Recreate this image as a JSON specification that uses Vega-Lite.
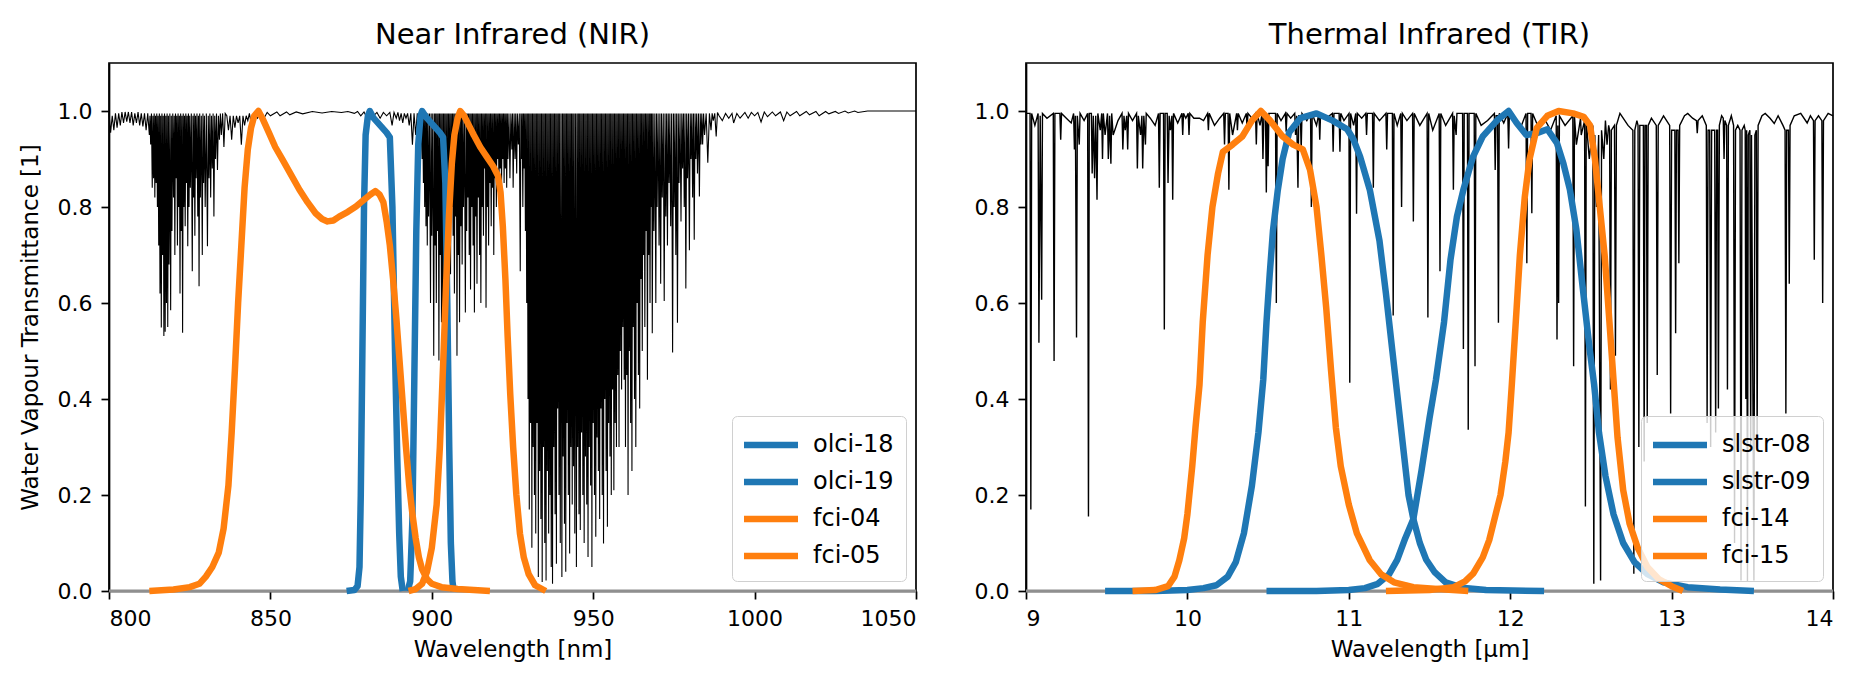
{
"$schema": "https://vega.github.io/schema/vega-lite/v6.json",
"background": "white",
"padding": {"left": 18, "top": 20, "right": 5, "bottom": 5},
"spacing": 110,
"bounds": "flush",
"resolve": {"scale": {"color": "independent", "x": "independent", "y": "independent"}, "legend": {"color": "independent"}},
"config": {
  "font": "DejaVu Sans",
  "view": {"stroke": "black", "strokeWidth": 1.7},
  "axis": {"grid": false, "domainColor": "black", "domainWidth": 1.7, "tickColor": "black", "tickWidth": 1.7, "tickSize": 8, "labelPadding": 9, "labelColor": "black", "labelFontSize": 22, "labelFont": "DejaVu Sans", "titleFont": "DejaVu Sans", "titleFontSize": 23, "titleFontWeight": "normal", "titleColor": "black"},
  "axisX": {"titlePadding": 9},
  "axisY": {"titlePadding": 15},
  "title": {"fontSize": 29, "fontWeight": "normal", "font": "DejaVu Sans", "color": "black", "offset": 13, "anchor": "middle"},
  "legend": {"orient": "bottom-right", "offset": 10, "symbolType": "M-2,0H2", "symbolSize": 729, "symbolStrokeWidth": 6.5, "labelFontSize": 24, "labelFont": "DejaVu Sans", "labelColor": "black", "fillColor": "rgba(255,255,255,0.8)", "strokeColor": "#d0d0d0", "cornerRadius": 5, "padding": 12, "rowPadding": 7, "symbolOffset": 10, "labelOffset": 25}
},
"datasets": {
"nir_t": [
{"w":800,"t":0.995},{"w":800.5,"t":0.955},{"w":801,"t":0.99},{"w":801.5,"t":0.96},{"w":802,"t":0.995},{"w":802.5,"t":0.965},{"w":803,"t":0.995},{"w":803.5,"t":0.97},{"w":804,"t":0.998},{"w":804.5,"t":0.975},{"w":805,"t":0.998},{"w":805.5,"t":0.978},{"w":806,"t":0.998},{"w":806.5,"t":0.975},{"w":807,"t":0.998},{"w":807.5,"t":0.97},{"w":808,"t":0.995},{"w":808.5,"t":0.975},{"w":809,"t":0.998},{"w":809.5,"t":0.97},{"w":810,"t":0.995},{"w":810.5,"t":0.968},{"w":811,"t":0.995},{"w":811.5,"t":0.96},{"w":812,"t":0.995},{"w":812.5,"t":0.95},
{"w":812.7,"t":0.99},{"w":812.9,"t":0.93},{"w":813.15,"t":0.995},{"w":813.4,"t":0.84},{"w":813.6,"t":0.99},{"w":813.8,"t":0.86},{"w":814.0,"t":0.995},{"w":814.2,"t":0.82},{"w":814.4,"t":0.99},{"w":814.6,"t":0.85},{"w":814.8,"t":0.995},{"w":815.0,"t":0.80},{"w":815.2,"t":0.99},{"w":815.4,"t":0.72},{"w":815.6,"t":0.995},{"w":815.8,"t":0.62},{"w":816.0,"t":0.99},{"w":816.2,"t":0.549},{"w":816.4,"t":0.995},{"w":816.6,"t":0.70},{"w":816.8,"t":0.99},{"w":817.0,"t":0.531},{"w":817.2,"t":0.995},{"w":817.4,"t":0.54},{"w":817.6,"t":0.99},{"w":817.8,"t":0.60},{"w":818.0,"t":0.995},{"w":818.2,"t":0.55},{"w":818.4,"t":0.99},{"w":818.6,"t":0.68},{"w":818.85,"t":0.995},{"w":819.1,"t":0.585},{"w":819.3,"t":0.99},{"w":819.5,"t":0.75},{"w":819.75,"t":0.995},{"w":820.0,"t":0.82},{"w":820.2,"t":0.99},{"w":820.4,"t":0.70},{"w":820.6,"t":0.995},{"w":820.8,"t":0.86},{"w":821.0,"t":0.99},{"w":821.2,"t":0.72},{"w":821.4,"t":0.995},{"w":821.6,"t":0.80},{"w":821.8,"t":0.99},{"w":822.0,"t":0.62},{"w":822.2,"t":0.995},{"w":822.4,"t":0.75},{"w":822.6,"t":0.99},{"w":822.8,"t":0.538},{"w":823.0,"t":0.995},{"w":823.2,"t":0.80},{"w":823.4,"t":0.99},{"w":823.6,"t":0.76},{"w":823.8,"t":0.995},{"w":824.0,"t":0.85},{"w":824.2,"t":0.99},{"w":824.4,"t":0.718},{"w":824.6,"t":0.995},{"w":824.8,"t":0.80},{"w":825.0,"t":0.99},{"w":825.2,"t":0.84},{"w":825.5,"t":0.995},{"w":825.8,"t":0.666},{"w":826.0,"t":0.99},{"w":826.2,"t":0.82},{"w":826.4,"t":0.995},{"w":826.6,"t":0.74},{"w":826.8,"t":0.99},{"w":827.0,"t":0.86},{"w":827.25,"t":0.995},{"w":827.5,"t":0.78},{"w":827.7,"t":0.99},{"w":827.9,"t":0.635},{"w":828.1,"t":0.995},{"w":828.3,"t":0.82},{"w":828.6,"t":0.99},{"w":828.9,"t":0.70},{"w":829.1,"t":0.995},{"w":829.3,"t":0.85},{"w":829.55,"t":0.99},{"w":829.8,"t":0.80},{"w":830.15,"t":0.995},{"w":830.5,"t":0.718},{"w":830.75,"t":0.99},{"w":831.0,"t":0.86},{"w":831.25,"t":0.995},{"w":831.5,"t":0.82},{"w":831.75,"t":0.99},{"w":832.0,"t":0.88},{"w":832.25,"t":0.995},{"w":832.5,"t":0.78},{"w":832.75,"t":0.99},{"w":833.0,"t":0.90},{"w":833.3,"t":0.995},{"w":833.6,"t":0.877},{"w":833.9,"t":0.99},{"w":834.2,"t":0.94},{"w":834.5,"t":0.995},{"w":834.8,"t":0.95},{"w":835.2,"t":0.995},{"w":835.6,"t":0.925},{"w":836.0,"t":0.995},
{"w":836.5,"t":0.99},{"w":837,"t":0.96},{"w":837.5,"t":0.99},{"w":838,"t":0.94},{"w":838.5,"t":0.99},{"w":839,"t":0.965},{"w":839.5,"t":0.99},{"w":840,"t":0.975},{"w":840.5,"t":0.99},{"w":841,"t":0.93},{"w":841.5,"t":0.99},{"w":842,"t":0.97},{"w":842.5,"t":0.99},{"w":843,"t":0.98},{"w":843.5,"t":0.995},{"w":844,"t":0.975},{"w":845,"t":0.995},{"w":846,"t":0.985},{"w":847,"t":0.997},{"w":848,"t":0.985},{"w":849,"t":0.997},{"w":850,"t":0.99},{"w":852,"t":0.998},{"w":853,"t":0.99},{"w":855,"t":0.998},{"w":856,"t":0.992},{"w":858,"t":0.998},{"w":860,"t":0.994},{"w":863,"t":0.999},{"w":866,"t":0.996},{"w":869,"t":0.999},{"w":872,"t":0.997},{"w":874,"t":0.999},{"w":876,"t":0.995},{"w":877,"t":0.999},{"w":878,"t":0.99},{"w":879,"t":0.998},{"w":880,"t":0.985},{"w":881,"t":0.998},{"w":882,"t":0.99},{"w":883,"t":0.997},{"w":884,"t":0.985},{"w":885,"t":0.997},{"w":886,"t":0.99},{"w":887,"t":0.997},{"w":887.7,"t":0.97},{"w":888.3,"t":0.997},{"w":889,"t":0.985},{"w":889.5,"t":0.997},{"w":890,"t":0.98},{"w":890.5,"t":0.995},{"w":891,"t":0.975},{"w":891.5,"t":0.995},{"w":892,"t":0.985},{"w":892.5,"t":0.995},{"w":893,"t":0.97},{"w":893.5,"t":0.995},{"w":894,"t":0.93},{"w":894.5,"t":0.995},{"w":895,"t":0.95},{"w":895.5,"t":0.995},{"w":896,"t":0.93},{"w":896.5,"t":0.995},
{"w":897.0,"t":0.90},{"w":897.2,"t":0.995},{"w":897.4,"t":0.85},{"w":897.6,"t":0.995},{"w":897.8,"t":0.80},{"w":898.0,"t":0.995},{"w":898.2,"t":0.76},{"w":898.4,"t":0.995},{"w":898.6,"t":0.72},{"w":898.8,"t":0.995},{"w":899.0,"t":0.78},{"w":899.3,"t":0.995},{"w":899.6,"t":0.60},{"w":899.8,"t":0.995},{"w":900.0,"t":0.74},{"w":900.3,"t":0.995},{"w":900.6,"t":0.49},{"w":900.8,"t":0.995},{"w":901.0,"t":0.72},{"w":901.2,"t":0.995},{"w":901.4,"t":0.60},{"w":901.6,"t":0.995},{"w":901.8,"t":0.75},{"w":902.0,"t":0.995},{"w":902.2,"t":0.48},{"w":902.4,"t":0.995},{"w":902.6,"t":0.70},{"w":902.8,"t":0.995},{"w":903.0,"t":0.56},{"w":903.2,"t":0.995},{"w":903.4,"t":0.46},{"w":903.6,"t":0.995},{"w":903.8,"t":0.65},{"w":904.0,"t":0.995},{"w":904.2,"t":0.456},{"w":904.4,"t":0.995},{"w":904.6,"t":0.72},{"w":904.8,"t":0.995},{"w":905.0,"t":0.60},{"w":905.2,"t":0.995},{"w":905.4,"t":0.76},{"w":905.6,"t":0.995},{"w":905.8,"t":0.66},{"w":906.0,"t":0.995},{"w":906.2,"t":0.80},{"w":906.4,"t":0.995},{"w":906.6,"t":0.74},{"w":906.8,"t":0.995},{"w":907.0,"t":0.62},{"w":907.2,"t":0.995},{"w":907.4,"t":0.78},{"w":907.6,"t":0.995},{"w":907.8,"t":0.49},{"w":908.0,"t":0.995},{"w":908.2,"t":0.70},{"w":908.4,"t":0.995},{"w":908.6,"t":0.56},{"w":908.8,"t":0.995},{"w":909.0,"t":0.76},{"w":909.2,"t":0.995},{"w":909.4,"t":0.68},{"w":909.6,"t":0.995},{"w":909.8,"t":0.80},{"w":910.1,"t":0.995},{"w":910.4,"t":0.58},{"w":910.6,"t":0.995},{"w":910.8,"t":0.75},{"w":911.0,"t":0.995},{"w":911.2,"t":0.82},{"w":911.4,"t":0.995},{"w":911.6,"t":0.70},{"w":911.8,"t":0.995},{"w":912.0,"t":0.628},{"w":912.2,"t":0.995},{"w":912.4,"t":0.80},{"w":912.6,"t":0.995},{"w":912.8,"t":0.72},{"w":913.0,"t":0.995},{"w":913.2,"t":0.58},{"w":913.4,"t":0.995},{"w":913.6,"t":0.78},{"w":913.8,"t":0.995},{"w":914.0,"t":0.64},{"w":914.2,"t":0.995},{"w":914.4,"t":0.82},{"w":914.6,"t":0.995},{"w":914.8,"t":0.70},{"w":915.0,"t":0.995},{"w":915.2,"t":0.60},{"w":915.4,"t":0.995},{"w":915.6,"t":0.80},{"w":915.8,"t":0.995},{"w":916.0,"t":0.74},{"w":916.2,"t":0.995},{"w":916.4,"t":0.88},{"w":916.6,"t":0.995},{"w":916.8,"t":0.59},{"w":917.0,"t":0.995},{"w":917.2,"t":0.80},{"w":917.4,"t":0.995},{"w":917.6,"t":0.72},{"w":917.8,"t":0.995},{"w":918.0,"t":0.85},{"w":918.2,"t":0.995},{"w":918.4,"t":0.76},{"w":918.6,"t":0.995},{"w":918.8,"t":0.84},{"w":919.0,"t":0.995},{"w":919.2,"t":0.70},{"w":919.4,"t":0.995},{"w":919.6,"t":0.86},{"w":919.8,"t":0.995},{"w":920.0,"t":0.80},{"w":920.2,"t":0.995},{"w":920.4,"t":0.90},{"w":920.6,"t":0.995},{"w":920.8,"t":0.84},{"w":921.0,"t":0.995},{"w":921.2,"t":0.88},{"w":921.4,"t":0.995},{"w":921.6,"t":0.84},{"w":921.8,"t":0.995},{"w":922.0,"t":0.90},{"w":922.2,"t":0.995},{"w":922.4,"t":0.85},{"w":922.6,"t":0.995},{"w":922.8,"t":0.88},{"w":923.0,"t":0.995},{"w":923.2,"t":0.84},{"w":923.4,"t":0.995},{"w":923.6,"t":0.90},{"w":923.9,"t":0.995},{"w":924.2,"t":0.86},{"w":924.5,"t":0.995},{"w":924.8,"t":0.92},{"w":925.0,"t":0.995},{"w":925.2,"t":0.84},{"w":925.5,"t":0.995},{"w":925.8,"t":0.90},{"w":926.0,"t":0.995},{"w":926.3,"t":0.87},{"w":926.5,"t":0.995},{"w":926.8,"t":0.93},{"w":927.1,"t":0.995},{"w":927.4,"t":0.666},{"w":927.6,"t":0.995},{"w":927.8,"t":0.90},{"w":928.0,"t":0.995},{"w":928.2,"t":0.80},{"w":928.4,"t":0.995},{"w":928.6,"t":0.88},{"w":928.8,"t":0.995},{"w":929.0,"t":0.75},{"w":929.2,"t":0.995},{"w":929.4,"t":0.60},{"w":929.6,"t":0.995},{"w":929.8,"t":0.40},{"w":930.0,"t":0.995},
{"w":930.2,"t":0.17},{"w":930.4,"t":0.995},{"w":930.6,"t":0.35},{"w":930.8,"t":0.995},{"w":931.0,"t":0.09},{"w":931.2,"t":0.995},{"w":931.4,"t":0.30},{"w":931.6,"t":0.995},{"w":931.8,"t":0.20},{"w":932.0,"t":0.995},{"w":932.2,"t":0.12},{"w":932.4,"t":0.995},{"w":932.6,"t":0.35},{"w":932.8,"t":0.995},{"w":933.0,"t":0.029},{"w":933.2,"t":0.995},{"w":933.4,"t":0.25},{"w":933.6,"t":0.995},{"w":933.8,"t":0.15},{"w":934.0,"t":0.995},{"w":934.2,"t":0.019},{"w":934.4,"t":0.995},{"w":934.6,"t":0.30},{"w":934.8,"t":0.995},{"w":935.0,"t":0.10},{"w":935.2,"t":0.995},{"w":935.4,"t":0.022},{"w":935.6,"t":0.995},{"w":935.8,"t":0.25},{"w":936.0,"t":0.995},{"w":936.2,"t":0.12},{"w":936.4,"t":0.995},{"w":936.6,"t":0.20},{"w":936.8,"t":0.995},{"w":937.0,"t":0.05},{"w":937.2,"t":0.995},{"w":937.4,"t":0.015},{"w":937.6,"t":0.995},{"w":937.8,"t":0.30},{"w":938.0,"t":0.995},{"w":938.2,"t":0.16},{"w":938.4,"t":0.995},{"w":938.6,"t":0.057},{"w":938.8,"t":0.995},{"w":939.0,"t":0.38},{"w":939.2,"t":0.995},{"w":939.4,"t":0.20},{"w":939.6,"t":0.995},{"w":939.8,"t":0.10},{"w":940.05,"t":0.995},{"w":940.3,"t":0.029},{"w":940.5,"t":0.995},{"w":940.7,"t":0.28},{"w":940.9,"t":0.995},{"w":941.1,"t":0.14},{"w":941.3,"t":0.995},{"w":941.5,"t":0.04},{"w":941.7,"t":0.995},{"w":941.9,"t":0.35},{"w":942.1,"t":0.995},{"w":942.3,"t":0.20},{"w":942.5,"t":0.995},{"w":942.7,"t":0.078},{"w":942.9,"t":0.995},{"w":943.1,"t":0.30},{"w":943.3,"t":0.995},{"w":943.5,"t":0.18},{"w":943.7,"t":0.995},{"w":943.9,"t":0.26},{"w":944.1,"t":0.995},{"w":944.3,"t":0.12},{"w":944.55,"t":0.995},{"w":944.8,"t":0.05},{"w":945.0,"t":0.995},{"w":945.2,"t":0.30},{"w":945.4,"t":0.995},{"w":945.6,"t":0.16},{"w":945.8,"t":0.995},{"w":946.0,"t":0.127},{"w":946.2,"t":0.995},{"w":946.4,"t":0.33},{"w":946.6,"t":0.995},{"w":946.8,"t":0.20},{"w":947.0,"t":0.995},{"w":947.2,"t":0.10},{"w":947.4,"t":0.995},{"w":947.6,"t":0.28},{"w":947.8,"t":0.995},{"w":948.0,"t":0.18},{"w":948.2,"t":0.995},{"w":948.4,"t":0.071},{"w":948.6,"t":0.995},{"w":948.8,"t":0.30},{"w":949.0,"t":0.995},{"w":949.2,"t":0.22},{"w":949.4,"t":0.995},{"w":949.6,"t":0.05},{"w":949.8,"t":0.995},{"w":950.0,"t":0.35},{"w":950.2,"t":0.995},{"w":950.4,"t":0.20},{"w":950.6,"t":0.995},{"w":950.8,"t":0.113},{"w":951.0,"t":0.995},{"w":951.2,"t":0.32},{"w":951.4,"t":0.995},{"w":951.6,"t":0.25},{"w":951.8,"t":0.995},{"w":952.0,"t":0.15},{"w":952.2,"t":0.995},{"w":952.4,"t":0.38},{"w":952.6,"t":0.995},{"w":952.8,"t":0.20},{"w":953.0,"t":0.995},{"w":953.2,"t":0.099},{"w":953.4,"t":0.995},{"w":953.6,"t":0.40},{"w":953.8,"t":0.995},{"w":954.0,"t":0.25},{"w":954.2,"t":0.995},{"w":954.4,"t":0.134},{"w":954.6,"t":0.995},{"w":954.8,"t":0.35},{"w":955.0,"t":0.995},{"w":955.2,"t":0.28},{"w":955.4,"t":0.995},{"w":955.6,"t":0.20},{"w":955.8,"t":0.995},{"w":956.0,"t":0.42},{"w":956.2,"t":0.995},{"w":956.4,"t":0.21},{"w":956.6,"t":0.995},{"w":956.8,"t":0.35},{"w":957.0,"t":0.995},{"w":957.2,"t":0.30},{"w":957.4,"t":0.995},{"w":957.6,"t":0.45},{"w":957.8,"t":0.995},{"w":958.0,"t":0.30},{"w":958.2,"t":0.995},{"w":958.4,"t":0.50},{"w":958.6,"t":0.995},{"w":958.8,"t":0.42},{"w":959.0,"t":0.995},{"w":959.2,"t":0.55},{"w":959.4,"t":0.995},{"w":959.6,"t":0.44},{"w":959.8,"t":0.995},
{"w":960.0,"t":0.30},{"w":960.2,"t":0.995},{"w":960.4,"t":0.45},{"w":960.6,"t":0.995},{"w":960.8,"t":0.20},{"w":961.0,"t":0.995},{"w":961.2,"t":0.50},{"w":961.4,"t":0.995},{"w":961.6,"t":0.35},{"w":961.8,"t":0.995},{"w":962.0,"t":0.25},{"w":962.2,"t":0.995},{"w":962.4,"t":0.55},{"w":962.6,"t":0.995},{"w":962.8,"t":0.40},{"w":963.0,"t":0.995},{"w":963.2,"t":0.30},{"w":963.4,"t":0.995},{"w":963.6,"t":0.60},{"w":963.8,"t":0.995},{"w":964.0,"t":0.45},{"w":964.2,"t":0.995},{"w":964.4,"t":0.38},{"w":964.6,"t":0.995},{"w":964.8,"t":0.65},{"w":965.0,"t":0.995},{"w":965.2,"t":0.50},{"w":965.4,"t":0.995},{"w":965.6,"t":0.70},{"w":965.8,"t":0.995},{"w":966.0,"t":0.55},{"w":966.2,"t":0.995},{"w":966.4,"t":0.75},{"w":966.6,"t":0.995},{"w":966.8,"t":0.44},{"w":967.0,"t":0.995},{"w":967.2,"t":0.70},{"w":967.4,"t":0.995},{"w":967.6,"t":0.60},{"w":967.8,"t":0.995},{"w":968.0,"t":0.80},{"w":968.15,"t":0.995},{"w":968.3,"t":0.537},{"w":968.55,"t":0.995},{"w":968.8,"t":0.75},{"w":969.1,"t":0.995},{"w":969.4,"t":0.60},{"w":969.6,"t":0.995},{"w":969.8,"t":0.80},{"w":970.1,"t":0.995},{"w":970.4,"t":0.72},{"w":970.65,"t":0.995},{"w":970.9,"t":0.64},{"w":971.15,"t":0.995},{"w":971.4,"t":0.82},{"w":971.7,"t":0.995},{"w":972.0,"t":0.604},{"w":972.25,"t":0.995},{"w":972.5,"t":0.78},{"w":972.75,"t":0.995},{"w":973.0,"t":0.72},{"w":973.25,"t":0.995},{"w":973.5,"t":0.85},{"w":973.75,"t":0.995},{"w":974.0,"t":0.76},{"w":974.3,"t":0.995},{"w":974.6,"t":0.497},{"w":974.85,"t":0.995},{"w":975.1,"t":0.80},{"w":975.35,"t":0.995},{"w":975.6,"t":0.70},{"w":975.85,"t":0.995},{"w":976.1,"t":0.559},{"w":976.35,"t":0.995},{"w":976.6,"t":0.85},{"w":976.9,"t":0.995},{"w":977.2,"t":0.77},{"w":977.45,"t":0.995},{"w":977.7,"t":0.88},{"w":977.95,"t":0.995},{"w":978.2,"t":0.80},{"w":978.45,"t":0.995},{"w":978.7,"t":0.63},{"w":978.95,"t":0.995},{"w":979.2,"t":0.86},{"w":979.5,"t":0.995},{"w":979.8,"t":0.71},{"w":980.05,"t":0.995},{"w":980.3,"t":0.90},{"w":980.55,"t":0.995},{"w":980.8,"t":0.82},{"w":981.05,"t":0.995},{"w":981.3,"t":0.732},{"w":981.55,"t":0.995},{"w":981.8,"t":0.90},{"w":982.05,"t":0.995},{"w":982.3,"t":0.87},{"w":982.6,"t":0.995},{"w":982.9,"t":0.822},{"w":983.15,"t":0.995},{"w":983.4,"t":0.93},{"w":983.65,"t":0.995},{"w":983.9,"t":0.93},{"w":984.2,"t":0.995},{"w":984.5,"t":0.95},{"w":985.0,"t":0.995},{"w":985.5,"t":0.892},{"w":986.0,"t":0.995},{"w":986.5,"t":0.96},{"w":986.85,"t":0.995},{"w":987.2,"t":0.98},{"w":987.65,"t":0.995},{"w":988.1,"t":0.947},{"w":988.5,"t":0.997},
{"w":989,"t":0.99},{"w":990,"t":0.98},{"w":991,"t":0.995},{"w":992,"t":0.985},{"w":993,"t":0.995},{"w":993.5,"t":0.975},{"w":994.5,"t":0.995},{"w":995.5,"t":0.985},{"w":997,"t":0.997},{"w":998,"t":0.985},{"w":999,"t":0.997},{"w":1000,"t":0.99},{"w":1001,"t":0.997},{"w":1002,"t":0.977},{"w":1003,"t":0.998},{"w":1004,"t":0.988},{"w":1005.5,"t":0.998},{"w":1006.5,"t":0.99},{"w":1008,"t":0.998},{"w":1009,"t":0.98},{"w":1010,"t":0.998},{"w":1011,"t":0.99},{"w":1013,"t":0.999},{"w":1014,"t":0.99},{"w":1016,"t":0.999},{"w":1017,"t":0.992},{"w":1019,"t":0.999},{"w":1020,"t":0.99},{"w":1022,"t":0.999},{"w":1023,"t":0.994},{"w":1025,"t":0.999},{"w":1026,"t":0.995},{"w":1028,"t":1.0},{"w":1029,"t":0.996},{"w":1031,"t":1.0},{"w":1032,"t":0.997},{"w":1035,"t":1.0},{"w":1050,"t":1.0}
],
"nir_srf": [
{"b":"olci-18","w":873.6,"r":0},{"b":"olci-18","w":876,"r":0.002},{"b":"olci-18","w":877,"r":0.01},{"b":"olci-18","w":877.6,"r":0.05},{"b":"olci-18","w":878,"r":0.2},{"b":"olci-18","w":878.5,"r":0.5},{"b":"olci-18","w":879,"r":0.8},{"b":"olci-18","w":879.5,"r":0.95},{"b":"olci-18","w":880.2,"r":0.99},{"b":"olci-18","w":880.8,"r":1.0},{"b":"olci-18","w":882,"r":0.985},{"b":"olci-18","w":884,"r":0.97},{"b":"olci-18","w":886,"r":0.955},{"b":"olci-18","w":887,"r":0.945},{"b":"olci-18","w":887.8,"r":0.8},{"b":"olci-18","w":888.6,"r":0.5},{"b":"olci-18","w":889.3,"r":0.28},{"b":"olci-18","w":889.9,"r":0.12},{"b":"olci-18","w":890.4,"r":0.03},{"b":"olci-18","w":891,"r":0},
{"b":"olci-19","w":892.5,"r":0},{"b":"olci-19","w":893.3,"r":0.02},{"b":"olci-19","w":894,"r":0.15},{"b":"olci-19","w":894.6,"r":0.45},{"b":"olci-19","w":895.2,"r":0.75},{"b":"olci-19","w":895.8,"r":0.93},{"b":"olci-19","w":896.5,"r":0.99},{"b":"olci-19","w":897,"r":1.0},{"b":"olci-19","w":898.5,"r":0.985},{"b":"olci-19","w":900.5,"r":0.97},{"b":"olci-19","w":902.5,"r":0.955},{"b":"olci-19","w":903.5,"r":0.945},{"b":"olci-19","w":904.2,"r":0.85},{"b":"olci-19","w":904.8,"r":0.6},{"b":"olci-19","w":905.4,"r":0.3},{"b":"olci-19","w":905.9,"r":0.1},{"b":"olci-19","w":906.4,"r":0.02},{"b":"olci-19","w":906.8,"r":0},
{"b":"fci-04","w":812.5,"r":0},{"b":"fci-04","w":820,"r":0.003},{"b":"fci-04","w":825,"r":0.008},{"b":"fci-04","w":828,"r":0.015},{"b":"fci-04","w":830,"r":0.03},{"b":"fci-04","w":832,"r":0.05},{"b":"fci-04","w":834,"r":0.08},{"b":"fci-04","w":835.5,"r":0.13},{"b":"fci-04","w":837,"r":0.22},{"b":"fci-04","w":838,"r":0.33},{"b":"fci-04","w":839,"r":0.46},{"b":"fci-04","w":840,"r":0.6},{"b":"fci-04","w":841,"r":0.72},{"b":"fci-04","w":842,"r":0.84},{"b":"fci-04","w":843,"r":0.92},{"b":"fci-04","w":844,"r":0.965},{"b":"fci-04","w":845,"r":0.99},{"b":"fci-04","w":846.3,"r":1.0},{"b":"fci-04","w":847.5,"r":0.985},{"b":"fci-04","w":849.6,"r":0.954},{"b":"fci-04","w":851.5,"r":0.925},{"b":"fci-04","w":853.8,"r":0.898},{"b":"fci-04","w":856.5,"r":0.866},{"b":"fci-04","w":859,"r":0.836},{"b":"fci-04","w":861.5,"r":0.81},{"b":"fci-04","w":864,"r":0.787},{"b":"fci-04","w":866,"r":0.775},{"b":"fci-04","w":867.7,"r":0.77},{"b":"fci-04","w":869.5,"r":0.772},{"b":"fci-04","w":871.3,"r":0.78},{"b":"fci-04","w":874,"r":0.79},{"b":"fci-04","w":876.5,"r":0.801},{"b":"fci-04","w":879,"r":0.815},{"b":"fci-04","w":881,"r":0.826},{"b":"fci-04","w":882.5,"r":0.833},{"b":"fci-04","w":883.8,"r":0.826},{"b":"fci-04","w":885,"r":0.81},{"b":"fci-04","w":886,"r":0.77},{"b":"fci-04","w":887,"r":0.72},{"b":"fci-04","w":888,"r":0.65},{"b":"fci-04","w":889,"r":0.57},{"b":"fci-04","w":890,"r":0.48},{"b":"fci-04","w":891,"r":0.39},{"b":"fci-04","w":892,"r":0.3},{"b":"fci-04","w":893,"r":0.22},{"b":"fci-04","w":894,"r":0.16},{"b":"fci-04","w":895,"r":0.11},{"b":"fci-04","w":896,"r":0.07},{"b":"fci-04","w":897,"r":0.045},{"b":"fci-04","w":898.5,"r":0.025},{"b":"fci-04","w":900,"r":0.015},{"b":"fci-04","w":903,"r":0.008},{"b":"fci-04","w":908,"r":0.004},{"b":"fci-04","w":913,"r":0.002},{"b":"fci-04","w":918,"r":0},
{"b":"fci-05","w":892.8,"r":0},{"b":"fci-05","w":895,"r":0.004},{"b":"fci-05","w":897,"r":0.015},{"b":"fci-05","w":898.5,"r":0.04},{"b":"fci-05","w":900,"r":0.09},{"b":"fci-05","w":901.5,"r":0.18},{"b":"fci-05","w":902.5,"r":0.3},{"b":"fci-05","w":903.5,"r":0.47},{"b":"fci-05","w":904.5,"r":0.65},{"b":"fci-05","w":905.3,"r":0.78},{"b":"fci-05","w":906.2,"r":0.89},{"b":"fci-05","w":907,"r":0.95},{"b":"fci-05","w":908,"r":0.985},{"b":"fci-05","w":908.8,"r":1.0},{"b":"fci-05","w":910,"r":0.99},{"b":"fci-05","w":911.5,"r":0.97},{"b":"fci-05","w":913,"r":0.95},{"b":"fci-05","w":915,"r":0.925},{"b":"fci-05","w":917,"r":0.905},{"b":"fci-05","w":919,"r":0.885},{"b":"fci-05","w":920.5,"r":0.865},{"b":"fci-05","w":921.3,"r":0.83},{"b":"fci-05","w":922,"r":0.76},{"b":"fci-05","w":922.8,"r":0.65},{"b":"fci-05","w":923.5,"r":0.53},{"b":"fci-05","w":924.3,"r":0.41},{"b":"fci-05","w":925.2,"r":0.3},{"b":"fci-05","w":926.2,"r":0.2},{"b":"fci-05","w":927.3,"r":0.12},{"b":"fci-05","w":928.5,"r":0.07},{"b":"fci-05","w":930,"r":0.035},{"b":"fci-05","w":932,"r":0.012},{"b":"fci-05","w":935.3,"r":0}
],
"tir_t": [
{"w":9.0,"t":0.995},{"w":9.025,"t":0.995},{"w":9.03,"t":0.17},{"w":9.035,"t":0.995},{"w":9.055,"t":0.97},{"w":9.075,"t":0.995},{"w":9.08,"t":0.517},{"w":9.088,"t":0.99},{"w":9.097,"t":0.607},{"w":9.102,"t":0.995},{"w":9.13,"t":0.985},{"w":9.169,"t":0.995},{"w":9.174,"t":0.479},{"w":9.179,"t":0.995},{"w":9.21,"t":0.995},{"w":9.215,"t":0.94},{"w":9.22,"t":0.995},{"w":9.25,"t":0.985},{"w":9.28,"t":0.975},{"w":9.295,"t":0.995},{"w":9.3,"t":0.92},{"w":9.306,"t":0.99},{"w":9.313,"t":0.528},{"w":9.318,"t":0.99},{"w":9.33,"t":0.93},{"w":9.335,"t":0.995},{"w":9.36,"t":0.98},{"w":9.382,"t":0.995},{"w":9.387,"t":0.155},{"w":9.392,"t":0.995},{"w":9.405,"t":0.995},{"w":9.41,"t":0.87},{"w":9.417,"t":0.99},{"w":9.425,"t":0.86},{"w":9.432,"t":0.99},{"w":9.44,"t":0.815},{"w":9.445,"t":0.995},{"w":9.46,"t":0.96},{"w":9.469,"t":0.995},{"w":9.474,"t":0.9},{"w":9.479,"t":0.995},{"w":9.49,"t":0.95},{"w":9.505,"t":0.995},{"w":9.51,"t":0.9},{"w":9.518,"t":0.99},{"w":9.526,"t":0.89},{"w":9.531,"t":0.995},{"w":9.54,"t":0.95},{"w":9.57,"t":0.98},{"w":9.595,"t":0.995},{"w":9.6,"t":0.92},{"w":9.607,"t":0.99},{"w":9.615,"t":0.96},{"w":9.624,"t":0.99},{"w":9.63,"t":0.92},{"w":9.635,"t":0.995},{"w":9.66,"t":0.98},{"w":9.685,"t":0.995},{"w":9.69,"t":0.88},{"w":9.696,"t":0.99},{"w":9.71,"t":0.95},{"w":9.718,"t":0.99},{"w":9.723,"t":0.88},{"w":9.73,"t":0.99},{"w":9.74,"t":0.93},{"w":9.745,"t":0.995},{"w":9.77,"t":0.985},{"w":9.8,"t":0.97},{"w":9.821,"t":0.995},{"w":9.826,"t":0.84},{"w":9.831,"t":0.995},{"w":9.852,"t":0.995},{"w":9.857,"t":0.545},{"w":9.862,"t":0.995},{"w":9.875,"t":0.995},{"w":9.88,"t":0.85},{"w":9.887,"t":0.99},{"w":9.895,"t":0.96},{"w":9.904,"t":0.99},{"w":9.909,"t":0.815},{"w":9.914,"t":0.995},{"w":9.94,"t":0.975},{"w":9.966,"t":0.995},{"w":9.971,"t":0.95},{"w":9.976,"t":0.995},{"w":9.99,"t":0.985},{"w":10.005,"t":0.995},{"w":10.01,"t":0.95},{"w":10.015,"t":0.995},{"w":10.04,"t":0.985},{"w":10.075,"t":0.985},{"w":10.1,"t":0.98},{"w":10.125,"t":0.995},{"w":10.13,"t":0.96},{"w":10.135,"t":0.995},{"w":10.168,"t":0.97},{"w":10.2,"t":0.985},{"w":10.225,"t":0.995},{"w":10.23,"t":0.93},{"w":10.235,"t":0.995},{"w":10.252,"t":0.995},{"w":10.257,"t":0.836},{"w":10.262,"t":0.995},{"w":10.28,"t":0.95},{"w":10.305,"t":0.995},{"w":10.31,"t":0.96},{"w":10.315,"t":0.995},{"w":10.34,"t":0.975},{"w":10.365,"t":0.995},{"w":10.37,"t":0.96},{"w":10.375,"t":0.995},{"w":10.4,"t":0.985},{"w":10.422,"t":0.995},{"w":10.427,"t":0.93},{"w":10.432,"t":0.995},{"w":10.45,"t":0.97},{"w":10.463,"t":0.995},{"w":10.468,"t":0.9},{"w":10.474,"t":0.99},{"w":10.484,"t":0.99},{"w":10.489,"t":0.83},{"w":10.494,"t":0.99},{"w":10.5,"t":0.885},{"w":10.505,"t":0.995},{"w":10.546,"t":0.995},{"w":10.551,"t":0.6},{"w":10.556,"t":0.995},{"w":10.58,"t":0.98},{"w":10.607,"t":0.995},{"w":10.612,"t":0.957},{"w":10.617,"t":0.995},{"w":10.64,"t":0.985},{"w":10.665,"t":0.995},{"w":10.67,"t":0.95},{"w":10.677,"t":0.99},{"w":10.685,"t":0.84},{"w":10.69,"t":0.99},{"w":10.7,"t":0.99},{"w":10.705,"t":0.92},{"w":10.71,"t":0.995},{"w":10.74,"t":0.98},{"w":10.763,"t":0.995},{"w":10.768,"t":0.8},{"w":10.773,"t":0.995},{"w":10.8,"t":0.97},{"w":10.815,"t":0.995},{"w":10.82,"t":0.94},{"w":10.825,"t":0.995},{"w":10.86,"t":0.985},{"w":10.898,"t":0.995},{"w":10.903,"t":0.915},{"w":10.908,"t":0.995},{"w":10.94,"t":0.995},{"w":10.945,"t":0.915},{"w":10.95,"t":0.995},{"w":10.97,"t":0.98},{"w":11.001,"t":0.995},{"w":11.006,"t":0.434},{"w":11.011,"t":0.995},{"w":11.03,"t":0.97},{"w":11.043,"t":0.995},{"w":11.048,"t":0.786},{"w":11.053,"t":0.995},{"w":11.08,"t":0.985},{"w":11.105,"t":0.995},{"w":11.11,"t":0.95},{"w":11.115,"t":0.995},{"w":11.147,"t":0.995},{"w":11.152,"t":0.84},{"w":11.157,"t":0.995},{"w":11.19,"t":0.98},{"w":11.23,"t":0.995},{"w":11.235,"t":0.92},{"w":11.24,"t":0.995},{"w":11.27,"t":0.995},{"w":11.275,"t":0.574},{"w":11.28,"t":0.995},{"w":11.3,"t":0.97},{"w":11.322,"t":0.995},{"w":11.327,"t":0.8},{"w":11.332,"t":0.995},{"w":11.36,"t":0.98},{"w":11.395,"t":0.995},{"w":11.4,"t":0.77},{"w":11.405,"t":0.995},{"w":11.44,"t":0.97},{"w":11.485,"t":0.995},{"w":11.49,"t":0.57},{"w":11.495,"t":0.995},{"w":11.52,"t":0.96},{"w":11.56,"t":0.995},{"w":11.565,"t":0.666},{"w":11.57,"t":0.995},{"w":11.6,"t":0.97},{"w":11.643,"t":0.995},{"w":11.648,"t":0.836},{"w":11.653,"t":0.99},{"w":11.665,"t":0.95},{"w":11.67,"t":0.995},{"w":11.705,"t":0.995},{"w":11.71,"t":0.504},{"w":11.715,"t":0.995},{"w":11.735,"t":0.995},{"w":11.74,"t":0.336},{"w":11.745,"t":0.995},{"w":11.777,"t":0.995},{"w":11.782,"t":0.468},{"w":11.787,"t":0.995},{"w":11.82,"t":0.97},{"w":11.86,"t":0.98},{"w":11.902,"t":0.995},{"w":11.907,"t":0.877},{"w":11.913,"t":0.99},{"w":11.922,"t":0.99},{"w":11.927,"t":0.559},{"w":11.932,"t":0.995},{"w":11.96,"t":0.975},{"w":11.985,"t":0.995},{"w":11.99,"t":0.922},{"w":11.995,"t":0.995},{"w":12.03,"t":0.98},{"w":12.07,"t":0.97},{"w":12.098,"t":0.995},{"w":12.103,"t":0.683},{"w":12.108,"t":0.995},{"w":12.129,"t":0.995},{"w":12.134,"t":0.787},{"w":12.139,"t":0.995},{"w":12.17,"t":0.97},{"w":12.21,"t":0.985},{"w":12.25,"t":0.96},{"w":12.285,"t":0.99},{"w":12.29,"t":0.524},{"w":12.295,"t":0.97},{"w":12.3,"t":0.6},{"w":12.305,"t":0.99},{"w":12.34,"t":0.97},{"w":12.388,"t":0.99},{"w":12.393,"t":0.468},{"w":12.398,"t":0.99},{"w":12.41,"t":0.93},{"w":12.436,"t":0.985},{"w":12.44,"t":0.95},{"w":12.461,"t":0.98},{"w":12.466,"t":0.176},{"w":12.471,"t":0.98},{"w":12.49,"t":0.9},{"w":12.512,"t":0.97},{"w":12.518,"t":0.015},{"w":12.524,"t":0.95},{"w":12.535,"t":0.8},{"w":12.548,"t":0.95},{"w":12.56,"t":0.022},{"w":12.566,"t":0.96},{"w":12.58,"t":0.9},{"w":12.59,"t":0.98},{"w":12.6,"t":0.93},{"w":12.61,"t":0.97},{"w":12.616,"t":0.96},{"w":12.621,"t":0.42},{"w":12.627,"t":0.96},{"w":12.646,"t":0.97},{"w":12.652,"t":0.49},{"w":12.658,"t":0.97},{"w":12.68,"t":0.995},{"w":12.7,"t":0.985},{"w":12.73,"t":0.97},{"w":12.76,"t":0.96},{"w":12.766,"t":0.036},{"w":12.772,"t":0.96},{"w":12.785,"t":0.98},{"w":12.792,"t":0.97},{"w":12.797,"t":0.3},{"w":12.803,"t":0.97},{"w":12.825,"t":0.97},{"w":12.83,"t":0.27},{"w":12.835,"t":0.97},{"w":12.844,"t":0.97},{"w":12.849,"t":0.35},{"w":12.855,"t":0.97},{"w":12.875,"t":0.985},{"w":12.905,"t":0.97},{"w":12.911,"t":0.45},{"w":12.917,"t":0.97},{"w":12.95,"t":0.99},{"w":12.988,"t":0.97},{"w":12.994,"t":0.37},{"w":13.0,"t":0.96},{"w":13.02,"t":0.96},{"w":13.025,"t":0.537},{"w":13.03,"t":0.96},{"w":13.04,"t":0.96},{"w":13.045,"t":0.683},{"w":13.05,"t":0.97},{"w":13.08,"t":0.99},{"w":13.1,"t":0.995},{"w":13.13,"t":0.985},{"w":13.154,"t":0.98},{"w":13.159,"t":0.954},{"w":13.164,"t":0.98},{"w":13.19,"t":0.99},{"w":13.215,"t":0.97},{"w":13.22,"t":0.35},{"w":13.226,"t":0.96},{"w":13.236,"t":0.96},{"w":13.242,"t":0.3},{"w":13.248,"t":0.96},{"w":13.267,"t":0.96},{"w":13.273,"t":0.33},{"w":13.279,"t":0.96},{"w":13.285,"t":0.96},{"w":13.29,"t":0.38},{"w":13.296,"t":0.97},{"w":13.31,"t":0.99},{"w":13.32,"t":0.985},{"w":13.325,"t":0.9},{"w":13.33,"t":0.98},{"w":13.341,"t":0.97},{"w":13.346,"t":0.42},{"w":13.352,"t":0.97},{"w":13.37,"t":0.99},{"w":13.384,"t":0.97},{"w":13.39,"t":0.1},{"w":13.396,"t":0.96},{"w":13.41,"t":0.97},{"w":13.424,"t":0.96},{"w":13.43,"t":0.022},{"w":13.436,"t":0.96},{"w":13.45,"t":0.97},{"w":13.456,"t":0.96},{"w":13.46,"t":0.4},{"w":13.465,"t":0.96},{"w":13.47,"t":0.02},{"w":13.475,"t":0.95},{"w":13.485,"t":0.96},{"w":13.49,"t":0.3},{"w":13.495,"t":0.95},{"w":13.51,"t":0.022},{"w":13.516,"t":0.95},{"w":13.525,"t":0.96},{"w":13.53,"t":0.3},{"w":13.536,"t":0.97},{"w":13.56,"t":0.99},{"w":13.58,"t":0.995},{"w":13.61,"t":0.985},{"w":13.636,"t":0.974},{"w":13.66,"t":0.99},{"w":13.69,"t":0.97},{"w":13.703,"t":0.96},{"w":13.708,"t":0.37},{"w":13.713,"t":0.96},{"w":13.724,"t":0.96},{"w":13.729,"t":0.64},{"w":13.734,"t":0.97},{"w":13.76,"t":0.99},{"w":13.8,"t":0.995},{"w":13.84,"t":0.975},{"w":13.86,"t":0.99},{"w":13.879,"t":0.98},{"w":13.884,"t":0.69},{"w":13.889,"t":0.98},{"w":13.91,"t":0.99},{"w":13.931,"t":0.98},{"w":13.936,"t":0.6},{"w":13.941,"t":0.98},{"w":13.97,"t":0.995},{"w":14.0,"t":0.99}
],
"tir_srf": [
{"b":"slstr-08","w":9.49,"r":0},{"b":"slstr-08","w":9.8,"r":0},{"b":"slstr-08","w":10.0,"r":0.002},{"b":"slstr-08","w":10.1,"r":0.006},{"b":"slstr-08","w":10.18,"r":0.012},{"b":"slstr-08","w":10.25,"r":0.03},{"b":"slstr-08","w":10.3,"r":0.06},{"b":"slstr-08","w":10.35,"r":0.12},{"b":"slstr-08","w":10.4,"r":0.22},{"b":"slstr-08","w":10.44,"r":0.33},{"b":"slstr-08","w":10.47,"r":0.44},{"b":"slstr-08","w":10.49,"r":0.56},{"b":"slstr-08","w":10.51,"r":0.66},{"b":"slstr-08","w":10.53,"r":0.75},{"b":"slstr-08","w":10.56,"r":0.835},{"b":"slstr-08","w":10.59,"r":0.9},{"b":"slstr-08","w":10.63,"r":0.955},{"b":"slstr-08","w":10.7,"r":0.985},{"b":"slstr-08","w":10.8,"r":0.995},{"b":"slstr-08","w":10.9,"r":0.98},{"b":"slstr-08","w":10.99,"r":0.962},{"b":"slstr-08","w":11.03,"r":0.94},{"b":"slstr-08","w":11.07,"r":0.905},{"b":"slstr-08","w":11.13,"r":0.836},{"b":"slstr-08","w":11.19,"r":0.73},{"b":"slstr-08","w":11.23,"r":0.62},{"b":"slstr-08","w":11.27,"r":0.5},{"b":"slstr-08","w":11.3,"r":0.41},{"b":"slstr-08","w":11.34,"r":0.29},{"b":"slstr-08","w":11.37,"r":0.2},{"b":"slstr-08","w":11.4,"r":0.15},{"b":"slstr-08","w":11.44,"r":0.1},{"b":"slstr-08","w":11.48,"r":0.065},{"b":"slstr-08","w":11.53,"r":0.04},{"b":"slstr-08","w":11.6,"r":0.018},{"b":"slstr-08","w":11.7,"r":0.007},{"b":"slstr-08","w":11.85,"r":0.002},{"b":"slstr-08","w":12.21,"r":0},
{"b":"slstr-09","w":10.49,"r":0},{"b":"slstr-09","w":10.8,"r":0},{"b":"slstr-09","w":11.0,"r":0.002},{"b":"slstr-09","w":11.1,"r":0.006},{"b":"slstr-09","w":11.18,"r":0.015},{"b":"slstr-09","w":11.25,"r":0.035},{"b":"slstr-09","w":11.3,"r":0.065},{"b":"slstr-09","w":11.35,"r":0.11},{"b":"slstr-09","w":11.4,"r":0.15},{"b":"slstr-09","w":11.45,"r":0.25},{"b":"slstr-09","w":11.5,"r":0.36},{"b":"slstr-09","w":11.54,"r":0.44},{"b":"slstr-09","w":11.59,"r":0.56},{"b":"slstr-09","w":11.63,"r":0.69},{"b":"slstr-09","w":11.67,"r":0.78},{"b":"slstr-09","w":11.71,"r":0.836},{"b":"slstr-09","w":11.77,"r":0.905},{"b":"slstr-09","w":11.83,"r":0.947},{"b":"slstr-09","w":11.92,"r":0.981},{"b":"slstr-09","w":11.99,"r":1.0},{"b":"slstr-09","w":12.04,"r":0.975},{"b":"slstr-09","w":12.1,"r":0.95},{"b":"slstr-09","w":12.165,"r":0.954},{"b":"slstr-09","w":12.23,"r":0.962},{"b":"slstr-09","w":12.29,"r":0.933},{"b":"slstr-09","w":12.33,"r":0.89},{"b":"slstr-09","w":12.37,"r":0.836},{"b":"slstr-09","w":12.41,"r":0.753},{"b":"slstr-09","w":12.45,"r":0.63},{"b":"slstr-09","w":12.49,"r":0.51},{"b":"slstr-09","w":12.52,"r":0.43},{"b":"slstr-09","w":12.55,"r":0.33},{"b":"slstr-09","w":12.59,"r":0.24},{"b":"slstr-09","w":12.64,"r":0.16},{"b":"slstr-09","w":12.7,"r":0.1},{"b":"slstr-09","w":12.77,"r":0.06},{"b":"slstr-09","w":12.85,"r":0.035},{"b":"slstr-09","w":12.95,"r":0.018},{"b":"slstr-09","w":13.1,"r":0.008},{"b":"slstr-09","w":13.3,"r":0.003},{"b":"slstr-09","w":13.51,"r":0},
{"b":"fci-14","w":9.66,"r":0},{"b":"fci-14","w":9.8,"r":0.002},{"b":"fci-14","w":9.88,"r":0.01},{"b":"fci-14","w":9.92,"r":0.03},{"b":"fci-14","w":9.95,"r":0.064},{"b":"fci-14","w":9.98,"r":0.11},{"b":"fci-14","w":10.0,"r":0.16},{"b":"fci-14","w":10.03,"r":0.26},{"b":"fci-14","w":10.05,"r":0.34},{"b":"fci-14","w":10.075,"r":0.43},{"b":"fci-14","w":10.095,"r":0.56},{"b":"fci-14","w":10.125,"r":0.7},{"b":"fci-14","w":10.155,"r":0.8},{"b":"fci-14","w":10.19,"r":0.87},{"b":"fci-14","w":10.22,"r":0.915},{"b":"fci-14","w":10.28,"r":0.93},{"b":"fci-14","w":10.34,"r":0.947},{"b":"fci-14","w":10.4,"r":0.98},{"b":"fci-14","w":10.455,"r":1.0},{"b":"fci-14","w":10.51,"r":0.981},{"b":"fci-14","w":10.59,"r":0.947},{"b":"fci-14","w":10.655,"r":0.93},{"b":"fci-14","w":10.715,"r":0.92},{"b":"fci-14","w":10.76,"r":0.877},{"b":"fci-14","w":10.8,"r":0.8},{"b":"fci-14","w":10.83,"r":0.7},{"b":"fci-14","w":10.86,"r":0.59},{"b":"fci-14","w":10.89,"r":0.46},{"b":"fci-14","w":10.92,"r":0.34},{"b":"fci-14","w":10.95,"r":0.26},{"b":"fci-14","w":11.0,"r":0.18},{"b":"fci-14","w":11.05,"r":0.12},{"b":"fci-14","w":11.13,"r":0.064},{"b":"fci-14","w":11.2,"r":0.035},{"b":"fci-14","w":11.28,"r":0.018},{"b":"fci-14","w":11.4,"r":0.008},{"b":"fci-14","w":11.55,"r":0.004},{"b":"fci-14","w":11.74,"r":0},
{"b":"fci-15","w":11.23,"r":0},{"b":"fci-15","w":11.5,"r":0.002},{"b":"fci-15","w":11.65,"r":0.008},{"b":"fci-15","w":11.72,"r":0.02},{"b":"fci-15","w":11.77,"r":0.036},{"b":"fci-15","w":11.83,"r":0.07},{"b":"fci-15","w":11.87,"r":0.106},{"b":"fci-15","w":11.91,"r":0.16},{"b":"fci-15","w":11.94,"r":0.2},{"b":"fci-15","w":11.97,"r":0.27},{"b":"fci-15","w":11.99,"r":0.33},{"b":"fci-15","w":12.01,"r":0.43},{"b":"fci-15","w":12.04,"r":0.59},{"b":"fci-15","w":12.06,"r":0.7},{"b":"fci-15","w":12.09,"r":0.82},{"b":"fci-15","w":12.12,"r":0.9},{"b":"fci-15","w":12.165,"r":0.965},{"b":"fci-15","w":12.23,"r":0.99},{"b":"fci-15","w":12.3,"r":1.0},{"b":"fci-15","w":12.39,"r":0.995},{"b":"fci-15","w":12.455,"r":0.988},{"b":"fci-15","w":12.495,"r":0.97},{"b":"fci-15","w":12.525,"r":0.9},{"b":"fci-15","w":12.555,"r":0.8},{"b":"fci-15","w":12.585,"r":0.7},{"b":"fci-15","w":12.615,"r":0.56},{"b":"fci-15","w":12.64,"r":0.44},{"b":"fci-15","w":12.665,"r":0.32},{"b":"fci-15","w":12.7,"r":0.21},{"b":"fci-15","w":12.74,"r":0.14},{"b":"fci-15","w":12.79,"r":0.09},{"b":"fci-15","w":12.85,"r":0.05},{"b":"fci-15","w":12.92,"r":0.025},{"b":"fci-15","w":13.0,"r":0.01},{"b":"fci-15","w":13.07,"r":0}
]
},
"hconcat": [
{
 "width": 807, "height": 528,
 "title": "Near Infrared (NIR)",
 "layer": [
  {"data": {"name": "nir_t"}, "mark": {"type": "line", "color": "black", "strokeWidth": 1.1},
   "encoding": {
    "x": {"field": "w", "type": "quantitative", "scale": {"domain": [800, 1050], "nice": false, "zero": false}, "axis": {"values": [800, 850, 900, 950, 1000, 1050], "format": "d", "title": "Wavelength [nm]"}},
    "y": {"field": "t", "type": "quantitative", "scale": {"domain": [0, 1.1], "nice": false, "zero": false}, "axis": {"values": [0, 0.2, 0.4, 0.6, 0.8, 1.0], "format": ".1f", "title": "Water Vapour Transmittance [1]"}}
   }},
  {"data": {"values": [{}]}, "mark": {"type": "rule", "color": "#8f8f8f", "strokeWidth": 3.2}, "encoding": {"y": {"datum": 0}}},
  {"data": {"name": "nir_srf"}, "transform": [{"filter": "datum.b === 'olci-18' || datum.b === 'olci-19'"}], "mark": {"type": "line", "strokeWidth": 6.5, "strokeJoin": "round"},
   "encoding": {
    "x": {"field": "w", "type": "quantitative"},
    "y": {"field": "r", "type": "quantitative"},
    "color": {"field": "b", "type": "nominal", "scale": {"domain": ["olci-18", "olci-19", "fci-04", "fci-05"], "range": ["#1f77b4", "#1f77b4", "#ff7f0e", "#ff7f0e"]}, "legend": {"title": null}}
   }},
  {"data": {"name": "nir_srf"}, "transform": [{"filter": "datum.b === 'fci-04' || datum.b === 'fci-05'"}], "mark": {"type": "line", "strokeWidth": 6.5, "strokeJoin": "round"},
   "encoding": {
    "x": {"field": "w", "type": "quantitative"},
    "y": {"field": "r", "type": "quantitative"},
    "color": {"field": "b", "type": "nominal", "scale": {"domain": ["olci-18", "olci-19", "fci-04", "fci-05"], "range": ["#1f77b4", "#1f77b4", "#ff7f0e", "#ff7f0e"]}, "legend": {"title": null}}
   }}
 ]
},
{
 "width": 807, "height": 528,
 "title": "Thermal Infrared (TIR)",
 "layer": [
  {"data": {"name": "tir_t"}, "mark": {"type": "line", "color": "black", "strokeWidth": 1.4},
   "encoding": {
    "x": {"field": "w", "type": "quantitative", "scale": {"domain": [9, 14], "nice": false, "zero": false}, "axis": {"values": [9, 10, 11, 12, 13, 14], "format": "d", "title": "Wavelength [µm]"}},
    "y": {"field": "t", "type": "quantitative", "scale": {"domain": [0, 1.1], "nice": false, "zero": false}, "axis": {"values": [0, 0.2, 0.4, 0.6, 0.8, 1.0], "format": ".1f", "title": null}}
   }},
  {"data": {"values": [{}]}, "mark": {"type": "rule", "color": "#8f8f8f", "strokeWidth": 3.2}, "encoding": {"y": {"datum": 0}}},
  {"data": {"name": "tir_srf"}, "transform": [{"filter": "datum.b === 'slstr-08' || datum.b === 'slstr-09'"}], "mark": {"type": "line", "strokeWidth": 6.5, "strokeJoin": "round"},
   "encoding": {
    "x": {"field": "w", "type": "quantitative"},
    "y": {"field": "r", "type": "quantitative"},
    "color": {"field": "b", "type": "nominal", "scale": {"domain": ["slstr-08", "slstr-09", "fci-14", "fci-15"], "range": ["#1f77b4", "#1f77b4", "#ff7f0e", "#ff7f0e"]}, "legend": {"title": null}}
   }},
  {"data": {"name": "tir_srf"}, "transform": [{"filter": "datum.b === 'fci-14' || datum.b === 'fci-15'"}], "mark": {"type": "line", "strokeWidth": 6.5, "strokeJoin": "round"},
   "encoding": {
    "x": {"field": "w", "type": "quantitative"},
    "y": {"field": "r", "type": "quantitative"},
    "color": {"field": "b", "type": "nominal", "scale": {"domain": ["slstr-08", "slstr-09", "fci-14", "fci-15"], "range": ["#1f77b4", "#1f77b4", "#ff7f0e", "#ff7f0e"]}, "legend": {"title": null}}
   }}
 ]
}
]
}
